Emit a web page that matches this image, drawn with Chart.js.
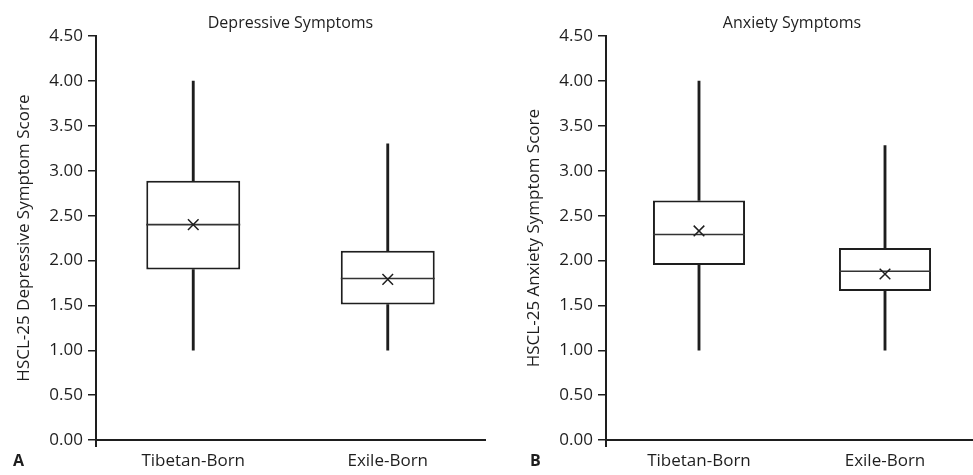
<!DOCTYPE html>
<html><head><meta charset="utf-8">
<script src="https://cdn.jsdelivr.net/npm/chart.js@4.4.1/dist/chart.umd.min.js"></script>
<style>
html,body{margin:0;padding:0;width:973px;height:475px;overflow:hidden;background:#fff;}
#wrap{position:relative;width:973px;height:475px;overflow:hidden;}
canvas{position:absolute;top:0;}
#cA{left:0;} #cB{left:510px;}
.panel{position:absolute;top:449px;font-family:'Open Sans';font-weight:bold;font-size:16px;color:#1e1e1e;line-height:normal;}
</style></head><body>
<div id="wrap">
<canvas id="cA" width="490" height="475"></canvas>
<canvas id="cB" width="475" height="475"></canvas>
<div class="panel" style="left:13px">A</div>
<div class="panel" style="left:530px">B</div>
</div>
<script>
// ---- data ----
const categories = ['Tibetan-Born', 'Exile-Born'];
const yTicks = [0, 0.5, 1, 1.5, 2, 2.5, 3, 3.5, 4, 4.5];

const depMin    = [1.00, 1.00];
const depQ1     = [1.90, 1.51];
const depMedian = [2.40, 1.80];
const depQ3     = [2.89, 2.11];
const depMax    = [4.00, 3.30];
const depMean   = [2.40, 1.79];

const anxMin    = [1.00, 1.00];
const anxQ1     = [1.95, 1.66];
const anxMedian = [2.29, 1.88];
const anxQ3     = [2.67, 2.14];
const anxMax    = [4.00, 3.28];
const anxMean   = [2.33, 1.85];

const INK = '#1e1e1e';
Chart.defaults.font.family = "'Open Sans'";
Chart.defaults.color = INK;

function makeChart(id, title, yTitle, mins, q1s, meds, q3s, maxs, means, barPct, padRight) {
  const pair = (a, b) => a.map((v, i) => [v, b[i]]);
  const halfBox = (ctx) => {
    const ca = ctx.chart.chartArea;
    if (!ca) return 40;
    return (ca.right - ca.left) / categories.length * barPct / 2;
  };
  return new Chart(document.getElementById(id), {
    type: 'bar',
    data: {
      labels: categories,
      datasets: [
        { type: 'line', data: means, showLine: false, order: 0,
          pointStyle: 'crossRot', pointRadius: 7.5, borderColor: INK, borderWidth: 1.5,
          backgroundColor: INK },
        { type: 'line', data: meds, showLine: false, order: 1,
          pointStyle: 'line', pointRadius: halfBox, borderColor: '#333', borderWidth: 1.6 },
        { data: pair(q1s, q3s), order: 2, grouped: false, backgroundColor: '#fff',
          borderColor: INK, borderWidth: 2, borderSkipped: false,
          barPercentage: barPct, categoryPercentage: 1 },
        { data: pair(q3s, maxs), order: 3, grouped: false, backgroundColor: INK,
          borderWidth: 0, barThickness: 2.2 },
        { data: pair(mins, q1s), order: 3, grouped: false, backgroundColor: INK,
          borderWidth: 0, barThickness: 2.2 }
      ]
    },
    options: {
      responsive: false, animation: false, events: [],
      layout: { autoPadding: false, padding: { left: 0, right: padRight, top: 0, bottom: 0 } },
      plugins: {
        legend: { display: false }, tooltip: { enabled: false },
        title: { display: true, text: title, fullSize: false, color: INK,
          font: { size: 16, weight: 'normal' }, padding: { top: 14, bottom: 3 } }
      },
      scales: {
        x: {
          afterFit: (s) => { s.height = 35; },
          border: { display: true, color: INK, width: 2 },
          grid: { drawOnChartArea: false, drawTicks: true, tickLength: 7, lineWidth: 2,
            color: (c) => c.index === 0 ? INK : 'rgba(0,0,0,0)' },
          ticks: { font: { size: 17 }, color: INK, padding: 4, maxRotation: 0 }
        },
        y: {
          min: 0, max: 4.5,
          afterFit: (s) => { s.width = 96; },
          afterBuildTicks: (s) => { s.ticks = yTicks.map(v => ({ value: v })); },
          border: { display: true, color: INK, width: 2 },
          grid: { drawOnChartArea: false, drawTicks: true, tickLength: 8, lineWidth: 1.5, color: INK },
          ticks: { font: { size: 17 }, color: INK, padding: 5,
            callback: (v) => Number(v).toFixed(2) },
          title: { display: true, text: yTitle, color: INK, font: { size: 17 },
            padding: { top: 14, bottom: 0 } }
        }
      }
    }
  });
}

makeChart('cA', 'Depressive Symptoms', 'HSCL-25 Depressive Symptom Score',
  depMin, depQ1, depMedian, depQ3, depMax, depMean, 0.483, 5);
makeChart('cB', 'Anxiety Symptoms', 'HSCL-25 Anxiety Symptom Score',
  anxMin, anxQ1, anxMedian, anxQ3, anxMax, anxMean, 0.495, 7);
</script>
</body></html>
